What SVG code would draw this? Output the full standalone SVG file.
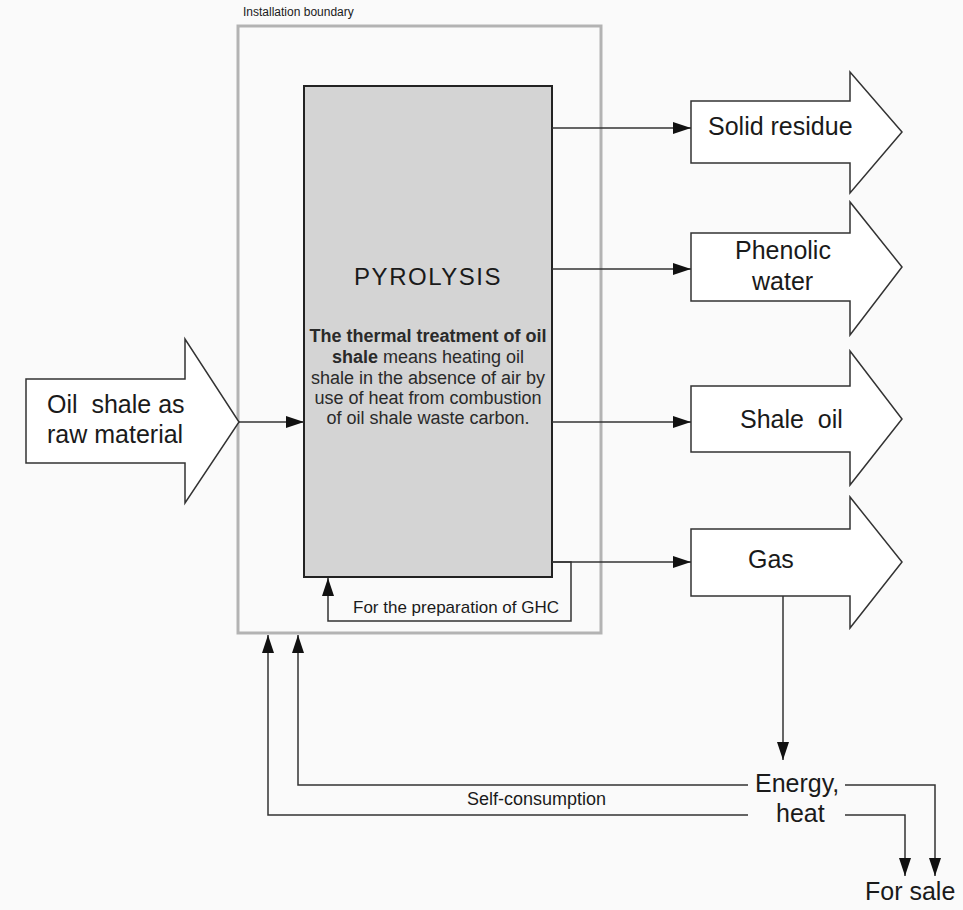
<svg xmlns="http://www.w3.org/2000/svg" width="963" height="910" viewBox="0 0 963 910">
<style>
text{font-family:"Liberation Sans",Arial,sans-serif;fill:#1a1a1a}
.lbl{font-size:25px}
.body{font-size:18px;fill:#2a2a2a}
.blk{fill:#fff;stroke:#333;stroke-width:1.5;stroke-linejoin:miter}
.con{fill:none;stroke:#333;stroke-width:1.5}
</style>
<defs>
<marker id="ah" markerUnits="userSpaceOnUse" markerWidth="18" markerHeight="12" refX="18" refY="6" orient="auto">
<path d="M0,0 L18,6 L0,12 z" fill="#111"/>
</marker>
</defs>
<rect width="963" height="910" fill="#fafafa"/>

<g id="boundary">
<rect x="238" y="26" width="363" height="607" fill="none" stroke="#b3b3b3" stroke-width="3"/>
<text x="243" y="16" font-size="12" style="font-size:12px">Installation boundary</text>
</g>

<g id="pyrolysis">
<rect x="304" y="86" width="248" height="491" fill="#d4d4d4" stroke="#222" stroke-width="2"/>
<text x="428" y="285" text-anchor="middle" style="font-size:24px;letter-spacing:1.5px">PYROLYSIS</text>
<text class="body" x="428" y="342" text-anchor="middle" font-weight="bold" style="font-weight:bold">The thermal treatment of oil</text>
<text class="body" x="428" y="363" text-anchor="middle"><tspan font-weight="bold">shale</tspan> means heating oil</text>
<text class="body" x="428" y="384" text-anchor="middle">shale in the absence of air by</text>
<text class="body" x="428" y="404" text-anchor="middle">use of heat from combustion</text>
<text class="body" x="428" y="424" text-anchor="middle">of oil shale waste carbon.</text>
</g>

<g id="input">
<path class="blk" d="M26,379 H185 V339 L239,422 L185,503 V463 H26 Z"/>
<text class="lbl" x="47" y="413">Oil&#160; shale as</text>
<text class="lbl" x="47" y="443">raw material</text>
</g>

<g id="solid-residue">
<path class="blk" d="M691,101 H850 V72 L902,132 L850,193 V163 H691 Z"/>
<text class="lbl" x="708" y="135">Solid residue</text>
</g>

<g id="phenolic-water">
<path class="blk" d="M691,233 H850 V202 L902,267 L850,335 V301 H691 Z"/>
<text class="lbl" x="735" y="259">Phenolic</text>
<text class="lbl" x="752" y="290">water</text>
</g>

<g id="shale-oil">
<path class="blk" d="M691,386 H850 V351 L902,419 L850,485 V452 H691 Z"/>
<text class="lbl" x="740" y="428">Shale&#160; oil</text>
</g>

<g id="gas">
<path class="blk" d="M691,529 H850 V497 L902,562 L850,628 V596 H691 Z"/>
<text class="lbl" x="748" y="568">Gas</text>
</g>

<g id="energy">
<text class="lbl" x="755" y="792">Energy,</text>
<text class="lbl" x="776" y="822">heat</text>
</g>

<g id="for-sale">
<text class="lbl" x="865" y="900">For sale</text>
</g>

<g id="connectors">
<line class="con" x1="239" y1="422" x2="304" y2="422" marker-end="url(#ah)"/>
<line class="con" x1="552" y1="128" x2="691" y2="128" marker-end="url(#ah)"/>
<line class="con" x1="552" y1="269" x2="691" y2="269" marker-end="url(#ah)"/>
<line class="con" x1="552" y1="422" x2="691" y2="422" marker-end="url(#ah)"/>
<line class="con" x1="552" y1="562" x2="691" y2="562" marker-end="url(#ah)"/>
<path class="con" d="M552,562 H571 V621 H328 V578" marker-end="url(#ah)"/>
<text x="353" y="613" style="font-size:17px">For the preparation of GHC</text>
<line class="con" x1="783" y1="596" x2="783" y2="760" marker-end="url(#ah)"/>
<path class="con" d="M748,785 H298 V635" marker-end="url(#ah)"/>
<path class="con" d="M748,815 H268 V635" marker-end="url(#ah)"/>
<text x="467" y="805" style="font-size:18px">Self-consumption</text>
<path class="con" d="M845,785 H935 V876" marker-end="url(#ah)"/>
<path class="con" d="M845,815 H905 V876" marker-end="url(#ah)"/>
</g>
</svg>
